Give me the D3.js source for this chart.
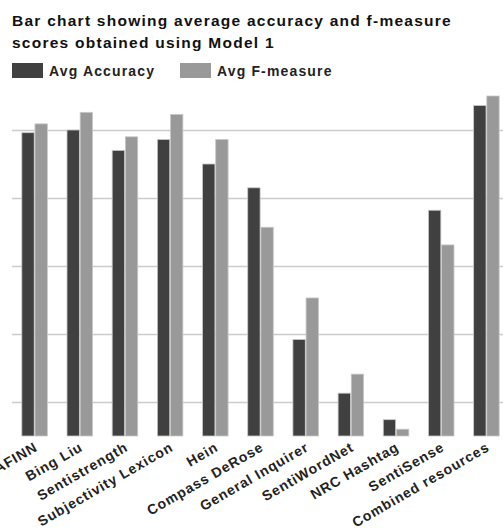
<!DOCTYPE html>
<html>
<head>
<meta charset="utf-8">
<script src="https://cdn.jsdelivr.net/npm/d3@7"></script>
<style>
  html, body { margin: 0; padding: 0; background: #fff; }
  svg { display: block; font-family: "Liberation Sans", Arial, sans-serif; }
</style>
</head>
<body>
<svg id="chart" width="503" height="531"></svg>
<script>
// Lexicon resources evaluated with Model 1
const categories = ["AFINN", "Bing Liu", "Sentistrength", "Subjectivity Lexicon", "Hein",
  "Compass DeRose", "General Inquirer", "SentiWordNet", "NRC Hashtag", "SentiSense", "Combined resources"];
// Average scores (%)
const avgAccuracy = [89.6, 90.0, 87.0, 88.6, 85.0, 81.5, 59.2, 51.3, 47.4, 78.2, 93.6];
const avgFMeasure = [90.9, 92.6, 89.0, 92.3, 88.6, 75.7, 65.3, 54.1, 46.0, 73.1, 95.0];
const seriesNames = ["Avg Accuracy", "Avg F-measure"];
const gridValues = [50, 60, 70, 80, 90];

const colors = ["#404040", "#999999"];
const svg = d3.select("#chart");

const plot = { left: 12, right: 509, top: 60, bottom: 436 };

const x = d3.scaleBand().domain(categories).range([plot.left, plot.right]).paddingInner(0.435).paddingOuter(0.2175);
const xs = d3.scaleBand().domain(seriesNames).range([0, x.bandwidth()]).paddingInner(0.06);
const y = d3.scaleLinear().domain([45, 95]).range([plot.bottom, plot.bottom - 50 * 6.8]);

// Horizontal gridlines
svg.append("g").selectAll("line").data(gridValues).join("line")
  .attr("x1", plot.left).attr("x2", plot.right)
  .attr("y1", d => Math.round(y(d)) + 0.5).attr("y2", d => Math.round(y(d)) + 0.5)
  .attr("stroke", "#cccccc").attr("stroke-width", 1.5);

// Bars
const series = [avgAccuracy, avgFMeasure];
const groups = svg.append("g").selectAll("g").data(categories).join("g")
  .attr("transform", d => `translate(${x(d)},0)`);
groups.selectAll("rect").data((d, i) => series.map((s, k) => ({ k, v: s[i] }))).join("rect")
  .attr("x", d => xs(seriesNames[d.k]))
  .attr("width", xs.bandwidth())
  .attr("y", d => y(d.v))
  .attr("height", d => plot.bottom - y(d.v))
  .attr("fill", d => colors[d.k])
  .attr("stroke", "#c8c8c8").attr("stroke-width", 0.8);

// Category labels, rotated
const xAxis = d3.axisBottom(x).tickSize(0).tickPadding(0);
const ax = svg.append("g").attr("transform", `translate(0,${plot.bottom})`).call(xAxis);
ax.select(".domain").remove();
ax.selectAll("text")
  .attr("font-family", "'Liberation Sans', Arial, sans-serif")
  .attr("font-size", 14).attr("font-weight", "bold").attr("fill", "#222")
  .attr("letter-spacing", 0.9)
  .attr("text-anchor", "end")
  .attr("dy", null).attr("y", 0)
  .attr("transform", "translate(4,14) rotate(-30)");

// Title
const title = svg.append("text").attr("x", 12).attr("y", 26)
  .attr("font-size", 15.5).attr("font-weight", "bold").attr("fill", "#111")
  .attr("letter-spacing", 1.25);
title.append("tspan").attr("x", 12).text("Bar chart showing average accuracy and f-measure");
title.append("tspan").attr("x", 12).attr("dy", 22).text("scores obtained using Model 1");

// Legend
const legendX = [12, 180];
const lg = svg.append("g").selectAll("g").data(seriesNames).join("g")
  .attr("transform", (d, i) => `translate(${legendX[i]},63)`);
lg.append("rect").attr("width", 31).attr("height", 15).attr("fill", (d, i) => colors[i]);
lg.append("text").attr("x", 37).attr("y", 13).attr("font-size", 14).attr("font-weight", "bold")
  .attr("letter-spacing", 1.15).attr("fill", "#222").text(d => d);
</script>
</body>
</html>
